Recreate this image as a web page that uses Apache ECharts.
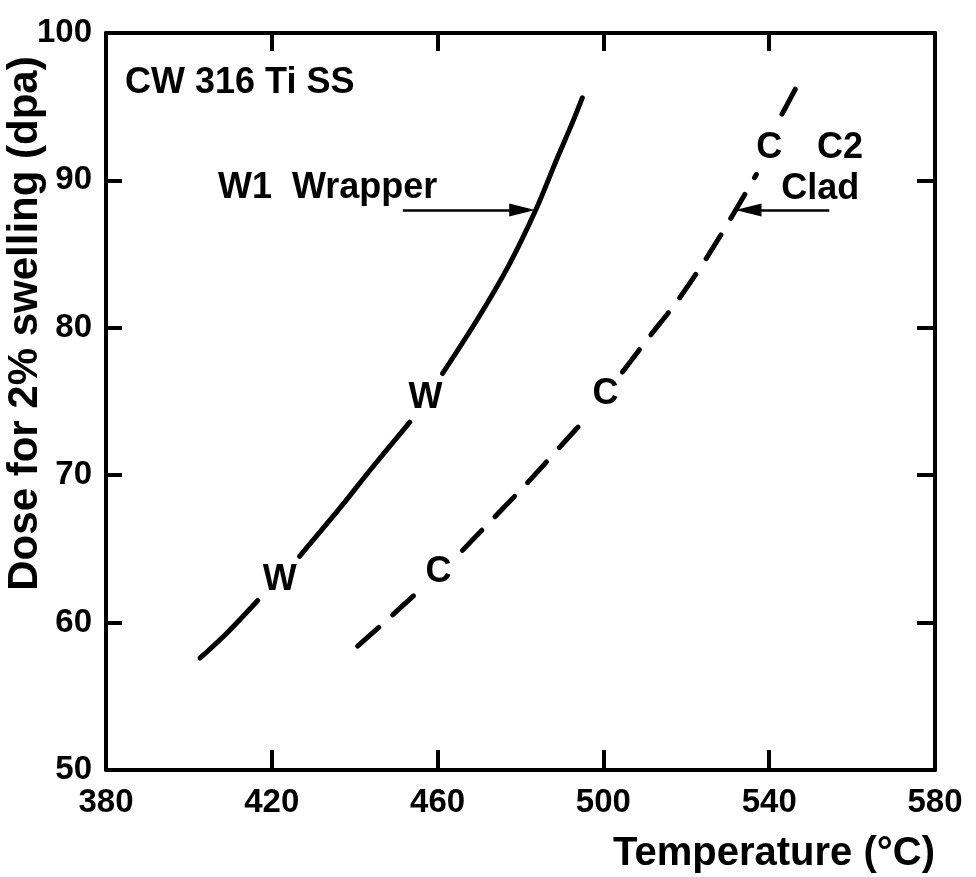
<!DOCTYPE html>
<html><head><meta charset="utf-8">
<script src="https://cdn.jsdelivr.net/npm/echarts@6/dist/echarts.min.js"></script>
<style>html,body{margin:0;padding:0;background:#fff}#c{width:976px;height:877px}</style>
</head><body><div id="c"></div>
<script>
// ---- data ----
const xMin = 380, xMax = 580, xStep = 40;
const yMin = 50, yMax = 100, yStep = 10;
const xTitle = 'Temperature (°C)';
const yTitle = 'Dose for 2% swelling (dpa)';
// W1 wrapper curve (solid); null = gap where a label sits
const wrapper = [[402.7,57.6],[409.2,59.3],[416.6,61.5],null,
  [426.7,64.5],[437.1,68.0],[443.6,70.3],[453.3,73.6],null,
  [461.2,76.9],[470.1,80.8],[477.3,84.3],[484.0,88.2],[488.7,91.4],[492.5,93.9],[494.9,95.6]];
// C2 clad curve (dashed)
const clad = [[440.7,58.4],[446.7,59.9],[454.9,62.0],null,
  [466.0,64.9],[472.5,66.8],[481.4,69.4],[490.1,72.1],[496.6,74.1],null,
  [504.6,77.0],[511.1,79.4],[517.8,81.8],[524.8,84.7],[531.1,87.6],[536.9,90.4],null,
  [543.1,94.5],[546.7,96.4]];
const wMarks = [[421.9,62.9],[457.1,75.2]];
const cMarks = [[460.2,63.4],[500.5,75.5],[540.0,92.2]];
const noteTexts = ['CW 316 Ti SS','W1  Wrapper','C2','Clad'];
const notePos = [[384.6,96.6],[407.0,89.5],[557.1,92.2],[552.3,89.4]];
const noteAlign = ['left','left','center','center'];
const arrowFrom = [[451.6,88.0],[554.5,88.0]];
const arrowTo = [[480.4,88.0],[535.0,88.0]];

// ---- build ----
const FONT = 'Liberation Sans';
function segments(arr){
  const out=[]; let cur=[];
  arr.forEach(p=>{ if(p===null){ if(cur.length) out.push(cur); cur=[]; } else cur.push(p); });
  if(cur.length) out.push(cur);
  return out;
}
const series = [];
segments(wrapper).forEach(seg=>series.push({
  type:'line', data:seg, smooth:0.3, symbol:'none', silent:true,
  lineStyle:{color:'#000', width:5, cap:'round'}
}));
segments(clad).forEach(seg=>series.push({
  type:'line', data:seg, smooth:0.3, symbol:'none', silent:true,
  lineStyle:{color:'#000', width:5, type:[28,19], cap:'round'}
}));
function markSeries(pts, letter){
  return {type:'scatter', data:pts, symbolSize:0, silent:true,
    itemStyle:{opacity:1},
    label:{show:true, position:'inside', formatter:letter, color:'#000', opacity:1,
      fontFamily:FONT, fontWeight:'bold', fontSize:36}};
}
series.push(markSeries(wMarks,'W'));
series.push(markSeries(cMarks,'C'));
series.push({
  type:'scatter', symbolSize:0, silent:true, itemStyle:{opacity:1},
  data: notePos.map((p,i)=>({value:p, label:{formatter:noteTexts[i], align:noteAlign[i]}})),
  label:{show:true, position:'inside', color:'#000', opacity:1, fontFamily:FONT, fontWeight:'bold', fontSize:36},
  markLine:{
    silent:true, symbol:'none', animation:false,
    label:{show:false},
    lineStyle:{color:'#000', width:2.5, type:'solid', opacity:1},
    data: arrowFrom.map((f,i)=>[
      {coord:f, symbol:'none'},
      {coord:arrowTo[i], symbol:'triangle', symbolSize:[13,26]}
    ])
  }
});

const axisLine = {show:true, lineStyle:{color:'#000', width:4}};
const chart = echarts.init(document.getElementById('c'));
chart.setOption({
  animation:false,
  backgroundColor:'#fff',
  grid:{left:106, right:41, top:33, bottom:107, containLabel:false, outerBoundsMode:'none'},
  xAxis:[{
    type:'value', min:xMin, max:xMax, interval:xStep, position:'bottom',
    axisLine:axisLine, splitLine:{show:false},
    axisTick:{inside:true, length:20, lineStyle:{color:'#000', width:4}},
    axisLabel:{margin:16, color:'#000', fontFamily:FONT, fontWeight:'bold', fontSize:33},
    name:xTitle, nameLocation:'end', nameGap:0, nameMoveOverlap:false,
    nameTextStyle:{color:'#000', fontFamily:FONT, fontWeight:'bold', fontSize:40,
      align:'right', verticalAlign:'top', padding:[64,0,0,0]}
  },{
    type:'value', min:xMin, max:xMax, interval:xStep, position:'top',
    axisLine:axisLine, splitLine:{show:false}, axisLabel:{show:false},
    axisTick:{inside:true, length:18, lineStyle:{color:'#000', width:4}}
  }],
  yAxis:[{
    type:'value', min:yMin, max:yMax, interval:yStep, position:'left',
    axisLine:axisLine, splitLine:{show:false},
    axisTick:{inside:true, length:16, lineStyle:{color:'#000', width:4}},
    axisLabel:{margin:14, color:'#000', fontFamily:FONT, fontWeight:'bold', fontSize:33},
    name:yTitle, nameLocation:'middle', nameRotate:90, nameGap:60, nameMoveOverlap:false,
    nameTextStyle:{color:'#000', fontFamily:FONT, fontWeight:'bold', fontSize:42,
      padding:[0,0,0,156]}
  },{
    type:'value', min:yMin, max:yMax, interval:yStep, position:'right',
    axisLine:axisLine, splitLine:{show:false}, axisLabel:{show:false},
    axisTick:{inside:true, length:18, lineStyle:{color:'#000', width:4}}
  }],
  series:series
});
</script></body></html>
